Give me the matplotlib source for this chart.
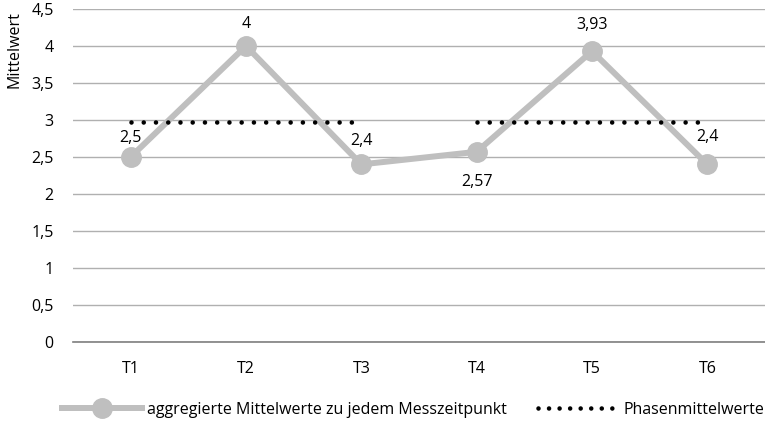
import matplotlib
matplotlib.use("Agg")
import matplotlib.pyplot as plt
from matplotlib.lines import Line2D

plt.rcParams['font.family'] = ['Open Sans', 'DejaVu Sans']

categories = ['T1', 'T2', 'T3', 'T4', 'T5', 'T6']
means = [2.5, 4.0, 2.4, 2.57, 3.93, 2.4]
mean_labels = ['2,5', '4', '2,4', '2,57', '3,93', '2,4']
# label offsets in points (dx, dy)
label_offsets = [(0, 14), (0, 16), (0, 16.5), (0, -21.5), (0, 18.5), (0, 19.5)]
phase_spans = [(0, 2), (3, 5)]
phase_means = [2.97, 2.97]
yticks = [0, 0.5, 1, 1.5, 2, 2.5, 3, 3.5, 4, 4.5]
ytick_labels = ['0', '0,5', '1', '1,5', '2', '2,5', '3', '3,5', '4', '4,5']

grey = '#bfbfbf'
fs = 11.5
fig = plt.figure(figsize=(7.65, 4.24), dpi=100)
ax = fig.add_axes([73/765, 1-342/424, 1-73/765, 333/424])

x = list(range(len(categories)))
ax.plot(x, means, color=grey, lw=4.3, marker='o', ms=14, zorder=3)

dots = (0, (0.001, 2.67))
for (a, b), m in zip(phase_spans, phase_means):
    ax.plot([a, b], [m, m], color='black', lw=3.3, linestyle=dots,
            dash_capstyle='round', zorder=4)

for xi, v, lab, (dx, dy) in zip(x, means, mean_labels, label_offsets):
    ax.annotate(lab, (xi, v), xytext=(dx, dy), textcoords='offset points',
                ha='center', va='center', fontsize=fs)

ax.set_xlim(-0.5, 5.5)
ax.set_ylim(0, 4.5)
ax.set_yticks(yticks)
ax.set_yticklabels(ytick_labels, fontsize=fs)
ax.set_xticks(x)
ax.set_xticklabels(categories, fontsize=fs)
ax.tick_params(length=0)
ax.tick_params(axis='y', pad=14)
ax.tick_params(axis='x', pad=14)
ax.grid(axis='y', color='#b0b0b0', lw=1)
ax.set_axisbelow(True)
for s in ['top', 'right', 'left']:
    ax.spines[s].set_visible(False)
ax.spines['bottom'].set_color('#7f7f7f')
ax.spines['bottom'].set_linewidth(1.2)

fig.text(15/765, 1-50/424, 'Mittelwert', rotation=90, ha='center', va='center', fontsize=fs)

handles = [Line2D([], [], color=grey, lw=4.3, marker='o', ms=14),
           Line2D([], [], color='black', lw=3.3, linestyle=(0, (0.001, 2.3)),
                  dash_capstyle='round')]
fig.legend(handles, ['aggregierte Mittelwerte zu jedem Messzeitpunkt', 'Phasenmittelwerte'],
           loc='center', bbox_to_anchor=(413/765, 1-410/424), ncol=2, frameon=False,
           fontsize=fs, handlelength=5.0, columnspacing=2.0, handletextpad=0.3)

fig.savefig('out.png', dpi=100)
